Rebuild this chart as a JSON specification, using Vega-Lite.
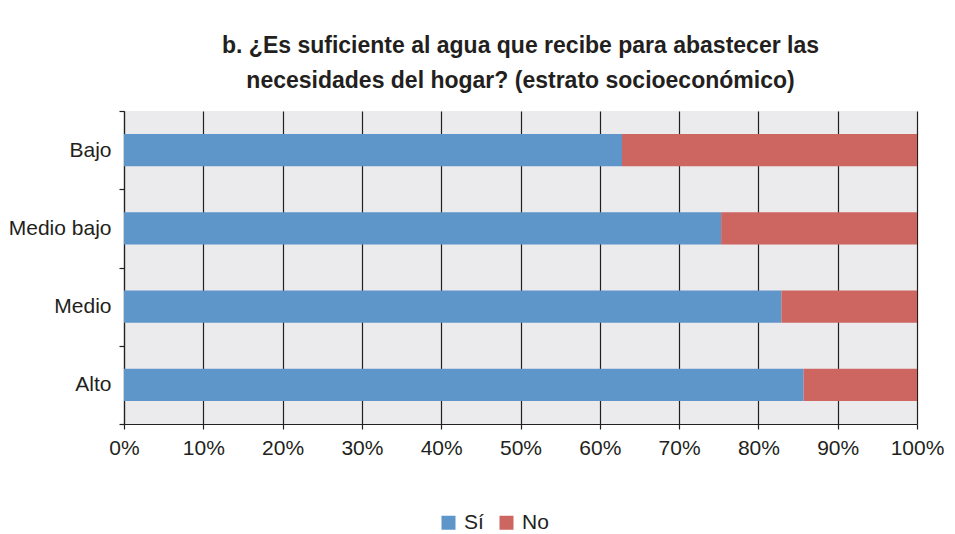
{
  "$schema": "https://vega.github.io/schema/vega-lite/v6.json",
  "width": 793,
  "height": 313,
  "autosize": {"type": "none"},
  "padding": {"left": 124, "top": 111, "right": 38, "bottom": 110},
  "background": "white",
  "title": {
    "text": ["b. ¿Es suficiente al agua que recibe para abastecer las", "necesidades del hogar? (estrato socioeconómico)"],
    "font": "Liberation Sans",
    "fontSize": 23,
    "fontWeight": "bold",
    "color": "#231f20",
    "lineHeight": 35,
    "anchor": "middle",
    "offset": 7
  },
  "data": {
    "values": [
      {"estrato": "Bajo", "respuesta": "Sí", "pct": 62.8, "ord": 1},
      {"estrato": "Bajo", "respuesta": "No", "pct": 37.2, "ord": 2},
      {"estrato": "Medio bajo", "respuesta": "Sí", "pct": 75.3, "ord": 1},
      {"estrato": "Medio bajo", "respuesta": "No", "pct": 24.7, "ord": 2},
      {"estrato": "Medio", "respuesta": "Sí", "pct": 82.9, "ord": 1},
      {"estrato": "Medio", "respuesta": "No", "pct": 17.1, "ord": 2},
      {"estrato": "Alto", "respuesta": "Sí", "pct": 85.7, "ord": 1},
      {"estrato": "Alto", "respuesta": "No", "pct": 14.3, "ord": 2}
    ]
  },
  "mark": {"type": "bar", "height": {"band": 0.41}},
  "encoding": {
    "y": {
      "field": "estrato",
      "type": "nominal",
      "sort": ["Bajo", "Medio bajo", "Medio", "Alto"],
      "title": null,
      "scale": {"paddingInner": 0, "paddingOuter": 0},
      "axis": {
        "domainColor": "#231f20",
        "domainWidth": 1.2,
        "tickColor": "#231f20",
        "tickWidth": 1.2,
        "tickSize": 5,
        "tickBand": "extent",
        "labelFont": "Liberation Sans",
        "labelFontSize": 21,
        "labelColor": "#231f20",
        "labelPadding": 8,
        "grid": false
      }
    },
    "x": {
      "field": "pct",
      "type": "quantitative",
      "stack": "normalize",
      "title": null,
      "scale": {"domain": [0, 1], "nice": false},
      "axis": {
        "values": [0, 0.1, 0.2, 0.3, 0.4, 0.5, 0.6, 0.7, 0.8, 0.9, 1],
        "format": ".0%",
        "grid": true,
        "gridColor": "#231f20",
        "gridWidth": 1.2,
        "gridOpacity": 1,
        "domainColor": "#231f20",
        "domainWidth": 1.2,
        "tickColor": "#231f20",
        "tickWidth": 1.2,
        "tickSize": 5,
        "labelFlush": false,
        "labelFont": "Liberation Sans",
        "labelFontSize": 21,
        "labelColor": "#231f20",
        "labelPadding": 8
      }
    },
    "color": {
      "field": "respuesta",
      "type": "nominal",
      "scale": {"domain": ["Sí", "No"], "range": ["#5F96C9", "#CD6660"]},
      "legend": {
        "title": null,
        "orient": "none",
        "legendX": 314,
        "legendY": 401,
        "direction": "horizontal",
        "symbolType": "square",
        "symbolSize": 196,
        "symbolStrokeWidth": 0,
        "symbolOpacity": 1,
        "labelOffset": 5,
        "labelFont": "Liberation Sans",
        "labelFontSize": 21,
        "labelColor": "#231f20",
        "columnPadding": 12
      }
    },
    "order": {"field": "ord"}
  },
  "config": {"view": {"fill": "#EBEBEE", "stroke": null}}
}
